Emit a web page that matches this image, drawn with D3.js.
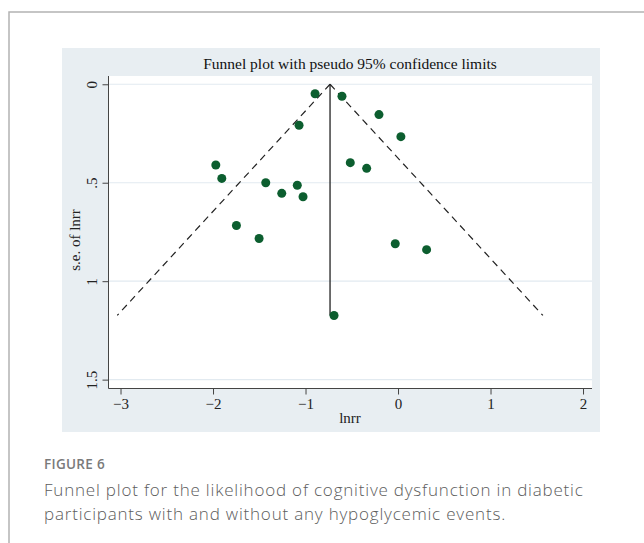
<!DOCTYPE html>
<html>
<head>
<meta charset="utf-8">
<script src="https://cdn.jsdelivr.net/npm/d3@7"></script>
<style>
  body { margin: 0; background: #fff; }
  svg { display: block; }
</style>
</head>
<body>
<svg id="chart" width="644" height="543"></svg>
<script>
// study effects (ln risk ratio) and their standard errors
var lnrr = [-0.897, -0.606, -1.070, -0.206, 0.031, -1.970, -1.905, -0.516, -0.339,
            -1.430, -1.089, -1.257, -1.027, -1.747, -1.502, -0.030, 0.309, -0.692];
var se   = [0.048, 0.061, 0.208, 0.154, 0.266, 0.410, 0.478, 0.398, 0.427,
            0.500, 0.513, 0.554, 0.571, 0.717, 0.783, 0.810, 0.840, 1.174];
var pooled = -0.735;
var xTicks = [-3, -2, -1, 0, 1, 2];
var yTicks = [0, 0.5, 1, 1.5];
var yTickLabels = ['0', '.5', '1', '1.5'];

var svg = d3.select('#chart');

// outer page frame
svg.append('path')
	.attr('d', 'M9,543 V12 H644')
	.attr('fill', 'none')
	.attr('stroke', '#b3b3b3')
	.attr('stroke-width', 1.5);

// stata graph region
svg.append('rect')
	.attr('x', 62).attr('y', 48)
	.attr('width', 538).attr('height', 384)
	.attr('fill', '#e8eef2');

var plot = { left: 108.5, right: 592, top: 76, bottom: 388.5 };

svg.append('rect')
	.attr('x', plot.left).attr('y', plot.top)
	.attr('width', plot.right - plot.left).attr('height', plot.bottom - plot.top)
	.attr('fill', '#fff');

var x = d3.scaleLinear().domain([-3.13, 2.097]).range([plot.left, plot.right]);
var y = d3.scaleLinear().domain([-0.042, 1.545]).range([plot.top, plot.bottom]);

// grid lines
svg.selectAll('.grid').data(yTicks)
	.enter()
	.append('line')
	.attr('x1', plot.left).attr('x2', plot.right)
	.attr('y1', function(d) { return y(d); })
	.attr('y2', function(d) { return y(d); })
	.attr('stroke', '#e2eaf0')
	.attr('stroke-width', 1.2);

var serif = '"Liberation Serif", "Times New Roman", serif';

// axes
var xAxis = d3.axisBottom(x).tickValues(xTicks).tickSize(6).tickPadding(4)
	.tickFormat(function(d) { return d < 0 ? '\u2212' + Math.abs(d) : d; });
var gx = svg.append('g').attr('transform', 'translate(0,' + plot.bottom + ')').call(xAxis);
gx.select('.domain').attr('d', 'M' + plot.left + ',0H' + plot.right).attr('stroke', '#444');
gx.selectAll('line').attr('stroke', '#444');
gx.selectAll('text').attr('font-family', serif).attr('font-size', 15).attr('fill', '#222');

var yAxis = d3.axisLeft(y).tickValues(yTicks).tickSize(6).tickPadding(0)
	.tickFormat(function(d, i) { return yTickLabels[i]; });
var gy = svg.append('g').attr('transform', 'translate(' + plot.left + ',0)').call(yAxis);
gy.select('.domain').attr('d', 'M0,' + plot.top + 'V' + plot.bottom).attr('stroke', '#444');
gy.selectAll('line').attr('stroke', '#444');
gy.selectAll('text')
	.attr('font-family', serif).attr('font-size', 15).attr('fill', '#222')
	.attr('x', null)
	.attr('text-anchor', 'middle')
	.attr('transform', 'translate(-17,0) rotate(-90)')
	.attr('dy', '0.35em');

// funnel
var seMax = d3.max(se);
svg.append('line')
	.attr('x1', x(pooled)).attr('x2', x(pooled))
	.attr('y1', y(0)).attr('y2', y(seMax))
	.attr('stroke', '#222').attr('stroke-width', 1.3);

[-1, 1].forEach(function(s) {
	svg.append('line')
		.attr('x1', x(pooled)).attr('y1', y(0))
		.attr('x2', x(pooled + s * 1.96 * seMax)).attr('y2', y(seMax))
		.attr('stroke', '#222').attr('stroke-width', 1.2)
		.attr('stroke-dasharray', '7,5');
});

// studies
svg.selectAll('.dot').data(lnrr)
	.enter()
	.append('circle')
	.attr('cx', function(d) { return x(d); })
	.attr('cy', function(d, i) { return y(se[i]); })
	.attr('r', 4.5)
	.attr('fill', '#0c5e2f');

// titles
svg.append('text')
	.attr('x', 350).attr('y', 69)
	.attr('text-anchor', 'middle')
	.attr('font-family', serif).attr('font-size', 15.5).attr('fill', '#111')
	.text('Funnel plot with pseudo 95% confidence limits');

svg.append('text')
	.attr('x', 350).attr('y', 423)
	.attr('text-anchor', 'middle')
	.attr('font-family', serif).attr('font-size', 15).attr('fill', '#222')
	.text('lnrr');

svg.append('text')
	.attr('transform', 'translate(80,240) rotate(-90)')
	.attr('text-anchor', 'middle')
	.attr('font-family', serif).attr('font-size', 15).attr('fill', '#222')
	.text('s.e. of lnrr');

// caption
var sans = '"Open Sans", "Noto Sans", sans-serif';
svg.append('text')
	.attr('x', 44).attr('y', 469)
	.attr('font-family', sans).attr('font-size', 13.5).attr('font-weight', 600)
	.attr('letter-spacing', 0.3).attr('fill', '#7a7a7a')
	.text('FIGURE 6');

var caption = ['Funnel plot for the likelihood of cognitive dysfunction in diabetic',
	'participants with and without any hypoglycemic events.'];
svg.selectAll('.cap').data(caption)
	.enter()
	.append('text')
	.attr('x', 44)
	.attr('y', function(d, i) { return 496 + i * 23.5; })
	.attr('font-family', sans).attr('font-size', 17).attr('fill', '#5c5c5c')
	.attr('font-weight', 300).attr('letter-spacing', 0.8)
	.text(function(d) { return d; });
</script>
</body>
</html>
